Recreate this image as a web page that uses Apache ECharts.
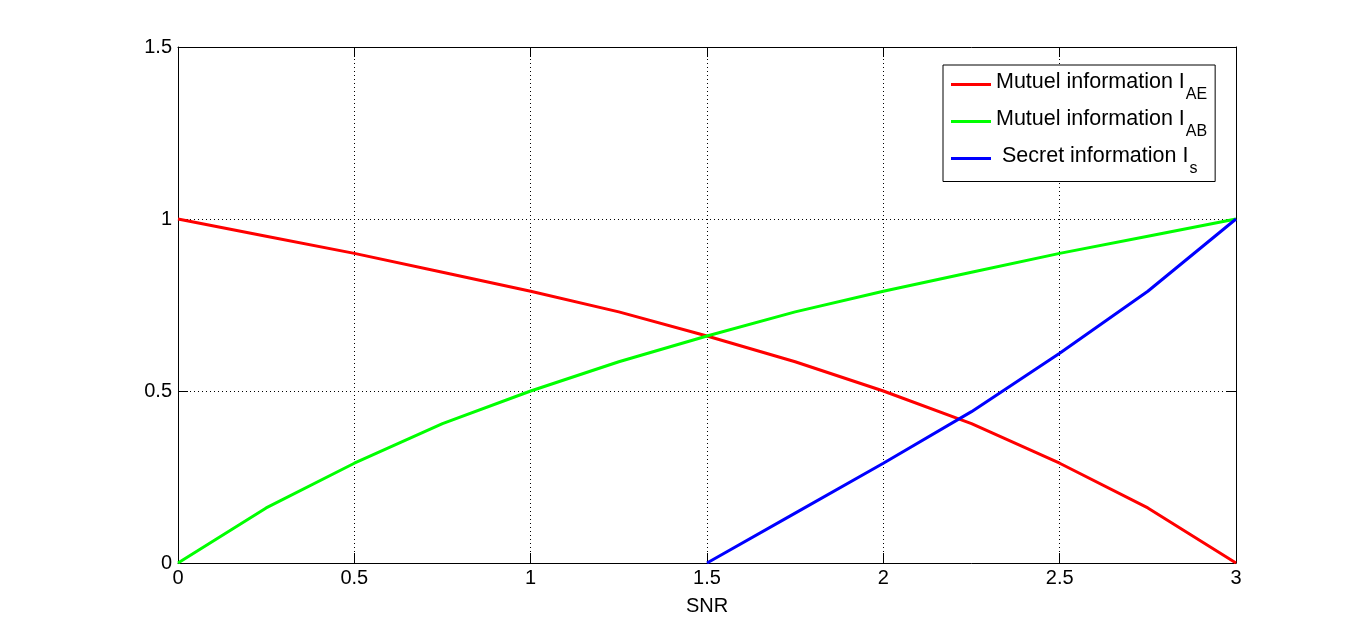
<!DOCTYPE html>
<html>
<head>
<meta charset="utf-8">
<script src="https://cdn.jsdelivr.net/npm/echarts@6/dist/echarts.min.js"></script>
<style>
html,body{margin:0;padding:0;background:#fff;}
#chart{width:1366px;height:633px;}
</style>
</head>
<body>
<div id="chart"></div>
<script>
var snrA = [0, 0.25, 0.5, 0.75, 1, 1.25, 1.5, 1.75, 2, 2.25, 2.5, 2.75, 3];
var iAE  = [1, 0.95, 0.90, 0.845, 0.79, 0.73, 0.66, 0.585, 0.50, 0.405, 0.29, 0.16, 0];
var iAB  = [0, 0.16, 0.29, 0.405, 0.50, 0.585, 0.66, 0.73, 0.79, 0.845, 0.90, 0.95, 1];
var snrS = [1.5, 1.75, 2, 2.25, 2.5, 2.75, 3];
var iS   = [0, 0.145, 0.29, 0.44, 0.61, 0.79, 1];
var xTicks = [0, 0.5, 1, 1.5, 2, 2.5, 3];
var yTicks = [0, 0.5, 1, 1.5];
var names = ['Mutuel information I_AE', 'Mutuel information I_AB', 'Secret information I_s'];
var legendMain = ['Mutuel information I', 'Mutuel information I', ' Secret information I'];
var legendSub = ['AE', 'AB', 's'];

function pairs(xs, ys) { return xs.map(function (x, i) { return [x, ys[i]]; }); }

var FONT = '"Liberation Sans", Arial, sans-serif';
var tick = { show: true, inside: true, length: 10, lineStyle: { color: '#000', width: 1 } };
var line = { show: true, onZero: false, lineStyle: { color: '#000', width: 1 } };
var grid = { show: true, lineStyle: { color: '#000', width: 1, type: [1, 3] } };

var chart = echarts.init(document.getElementById('chart'), null, { renderer: 'canvas' });
chart.setOption({
  animation: false,
  backgroundColor: '#fff',
  grid: { left: 178, right: 130, top: 47, bottom: 70, containLabel: false },
  legend: {
    orient: 'vertical',
    left: 943, top: 65,
    padding: [4, 8, 5, 8],
    itemGap: 3.5,
    itemWidth: 40, itemHeight: 3,
    icon: 'rect',
    borderColor: '#000', borderWidth: 1,
    backgroundColor: '#fff',
    data: names,
    formatter: function (n) {
      var i = names.indexOf(n);
      return '{m|' + legendMain[i] + '}{s|' + legendSub[i] + '}';
    },
    textStyle: {
      fontFamily: FONT, color: '#000',
      rich: {
        m: { fontFamily: FONT, fontSize: 21.5, color: '#000', lineHeight: 31, height: 26, verticalAlign: 'top' },
        s: { fontFamily: FONT, fontSize: 16, color: '#000', lineHeight: 10, height: 11, verticalAlign: 'bottom', padding: [0, 0, 0, 1] }
      }
    }
  },
  xAxis: [
    { type: 'value', min: 0, max: 3, interval: 0.5, position: 'bottom',
      name: 'SNR', nameLocation: 'middle', nameGap: 33,
      nameTextStyle: { fontFamily: FONT, fontSize: 20, color: '#000' },
      axisLine: line, axisTick: tick, splitLine: grid,
      axisLabel: { fontFamily: FONT, fontSize: 20, color: '#000', margin: 5,
        formatter: function (v) { return String(v); } } },
    { type: 'value', min: 0, max: 3, interval: 0.5, position: 'top',
      axisLine: line, axisTick: tick, splitLine: { show: false }, axisLabel: { show: false } }
  ],
  yAxis: [
    { type: 'value', min: 0, max: 1.5, interval: 0.5, position: 'left',
      axisLine: line, axisTick: tick, splitLine: grid,
      axisLabel: { fontFamily: FONT, fontSize: 20, color: '#000', margin: 6,
        formatter: function (v) { return String(v); } } },
    { type: 'value', min: 0, max: 1.5, interval: 0.5, position: 'right',
      axisLine: line, axisTick: tick, splitLine: { show: false }, axisLabel: { show: false } }
  ],
  series: [
    { name: names[0], type: 'line', data: pairs(snrA, iAE), symbol: 'none', smooth: false,
      color: '#ff0000', lineStyle: { color: '#ff0000', width: 3 }, z: 3 },
    { name: names[1], type: 'line', data: pairs(snrA, iAB), symbol: 'none', smooth: false,
      color: '#00ff00', lineStyle: { color: '#00ff00', width: 3 }, z: 4 },
    { name: names[2], type: 'line', data: pairs(snrS, iS), symbol: 'none', smooth: false,
      color: '#0000ff', lineStyle: { color: '#0000ff', width: 3 }, z: 5 }
  ]
});
</script>
</body>
</html>
